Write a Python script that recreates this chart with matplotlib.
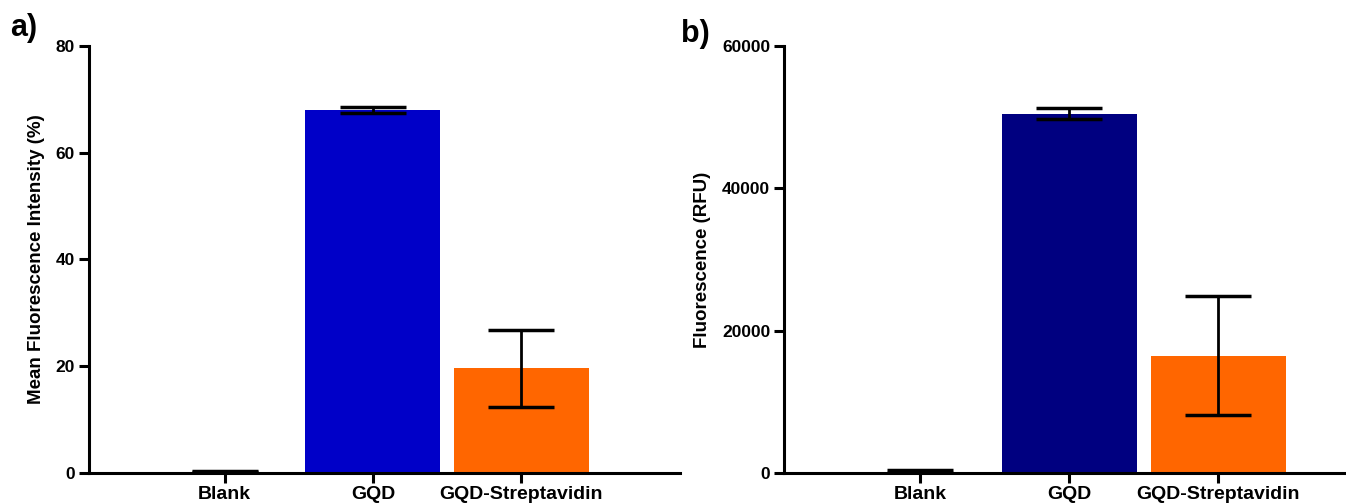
import matplotlib
matplotlib.use('Agg')
import matplotlib.pyplot as plt

plt.rcParams['font.family'] = ['Liberation Sans', 'DejaVu Sans']
plt.rcParams['font.weight'] = 'bold'

# data
categories = ['Blank', 'GQD', 'GQD-Streptavidin']

mfi_values = [0.2, 68.0, 19.6]
mfi_errors = [0.1, 0.5, 7.2]
mfi_colors = ['#0000C8', '#0000C8', '#FF6600']

rfu_values = [200, 50500, 16500]
rfu_errors = [250, 800, 8400]
rfu_colors = ['#000080', '#000080', '#FF6600']

def draw_panel(ax, values, errors, colors, ylabel, yticks, ymax, xmax):
    x = range(len(categories))
    ax.bar(x, values, width=0.91, color=colors, edgecolor='none', zorder=2)
    ax.errorbar(x, values, yerr=errors, fmt='none', ecolor='black',
                elinewidth=2, capsize=24, capthick=2.5, zorder=3)
    ax.set_xlim(-0.915, xmax)
    ax.set_ylim(0, ymax)
    ax.set_xticks(list(x))
    ax.set_xticklabels(categories, fontsize=14, fontweight='bold')
    ax.set_yticks(yticks)
    ax.set_yticklabels([str(t) for t in yticks], fontsize=12.5, fontweight='bold')
    ax.set_ylabel(ylabel, fontsize=13.5, fontweight='bold', labelpad=8)
    for s in ['top', 'right']:
        ax.spines[s].set_visible(False)
    for s in ['left', 'bottom']:
        ax.spines[s].set_linewidth(2.2)
    ax.tick_params(axis='both', width=2.2, length=7, pad=3)
    ax.tick_params(axis='x', pad=2)

fig = plt.figure(figsize=(13.46, 5.03), dpi=100)
ax1 = fig.add_axes([0.0661, 0.0596, 0.439, 0.849])
ax2 = fig.add_axes([0.5825, 0.0596, 0.4175, 0.849])

draw_panel(ax1, mfi_values, mfi_errors, mfi_colors,
           'Mean Fluorescence Intensity (%)', [0, 20, 40, 60, 80], 80, 3.07)
draw_panel(ax2, rfu_values, rfu_errors, rfu_colors,
           'Fluorescence (RFU)', [0, 20000, 40000, 60000], 60000, 2.857)

fig.text(0.0074, 0.975, 'a)', fontsize=22, fontweight='bold', ha='left', va='top')
fig.text(0.506, 0.962, 'b)', fontsize=22, fontweight='bold', ha='left', va='top')

fig.savefig('out.png', dpi=100)
